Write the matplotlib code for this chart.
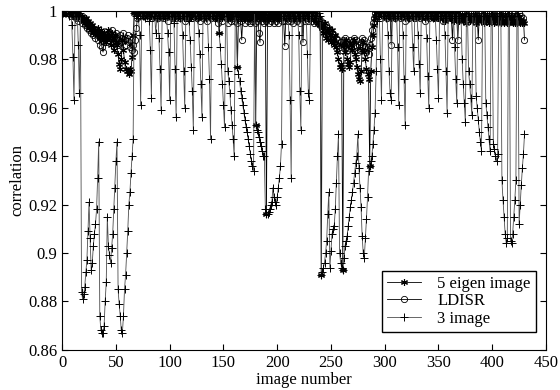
import numpy as np
import matplotlib
matplotlib.use('Agg')
import matplotlib.pyplot as plt
from matplotlib.ticker import FormatStrFormatter

plt.rcParams['font.family'] = ['Liberation Serif', 'DejaVu Serif']

# 3 image (plus markers), image 1..430
img3 = [
    0.999, 1.000, 0.999, 0.999, 1.000, 0.998, 0.999, 0.999, 0.994, 0.981,
    0.963, 0.999, 0.998, 0.999, 0.986, 0.966, 0.999, 0.884, 0.881, 0.883,
    0.886, 0.892, 0.897, 0.909, 0.921, 0.906, 0.893, 0.896, 0.903, 0.908,
    0.912, 0.918, 0.931, 0.946, 0.874, 0.868, 0.867, 0.867, 0.870, 0.880,
    0.888, 0.915, 0.903, 0.899, 0.896, 0.902, 0.908, 0.918, 0.927, 0.938,
    0.946, 0.885, 0.879, 0.874, 0.868, 0.867, 0.874, 0.885, 0.891, 0.900,
    0.909, 0.920, 0.925, 0.933, 0.940, 0.947, 0.999, 1.000, 0.998, 0.999,
    0.997, 0.990, 0.961, 0.999, 0.998, 0.999, 0.997, 0.999, 0.998, 0.999,
    0.996, 0.984, 0.964, 0.999, 0.998, 0.999, 0.991, 0.997, 0.999, 0.989,
    0.976, 0.959, 0.999, 0.998, 0.999, 0.997, 0.999, 0.991, 0.983, 0.963,
    0.999, 0.998, 0.999, 0.995, 0.976, 0.956, 0.999, 0.998, 0.999, 0.997,
    0.999, 0.990, 0.975, 0.960, 0.999, 0.998, 0.999, 0.996, 0.988, 0.977,
    0.967, 0.951, 0.999, 0.998, 0.999, 0.997, 0.991, 0.982, 0.970, 0.956,
    0.999, 0.998, 0.999, 0.997, 0.999, 0.985, 0.972, 0.947, 0.999, 0.998,
    0.999, 0.997, 0.999, 0.998, 0.999, 0.991, 0.985, 0.978, 0.970, 0.961,
    0.952, 0.999, 0.998, 0.975, 0.971, 0.966, 0.959, 0.953, 0.947, 0.940,
    0.999, 0.998, 0.977, 0.974, 0.971, 0.967, 0.964, 0.961, 0.958, 0.955,
    0.952, 0.950, 0.947, 0.944, 0.941, 0.938, 0.936, 0.934, 0.999, 0.953,
    0.951, 0.950, 0.948, 0.946, 0.944, 0.942, 0.940, 0.940, 0.918, 0.916,
    0.916, 0.917, 0.918, 0.920, 0.921, 0.927, 0.923, 0.921, 0.920, 0.923,
    0.927, 0.931, 0.936, 0.945, 0.999, 0.998, 0.999, 0.997, 0.999, 0.998,
    0.990, 0.963, 0.931, 0.999, 0.998, 0.999, 0.997, 0.999, 0.998, 0.990,
    0.967, 0.951, 0.999, 0.998, 0.999, 0.997, 0.999, 0.982, 0.966, 0.963,
    0.999, 0.998, 0.999, 0.997, 0.999, 0.998, 0.999, 0.996, 0.999, 0.998,
    0.891, 0.892, 0.894, 0.896, 0.900, 0.905, 0.916, 0.925, 0.894, 0.901,
    0.908, 0.910, 0.911, 0.918, 0.929, 0.940, 0.949, 0.900, 0.896, 0.894,
    0.893, 0.898, 0.903, 0.905, 0.907, 0.911, 0.915, 0.919, 0.922, 0.925,
    0.929, 0.933, 0.937, 0.940, 0.949, 0.935, 0.927, 0.919, 0.907, 0.900,
    0.898, 0.906, 0.914, 0.923, 0.934, 0.936, 0.938, 0.940, 0.945, 0.951,
    0.958, 0.975, 0.996, 0.999, 0.998, 0.980, 0.963, 0.999, 0.998, 0.999,
    0.997, 0.999, 0.990, 0.975, 0.966, 0.963, 0.999, 0.998, 0.999, 0.997,
    0.999, 0.985, 0.961, 0.999, 0.998, 0.999, 0.990, 0.972, 0.953, 0.999,
    0.998, 0.999, 0.997, 0.999, 0.998, 0.985, 0.975, 0.999, 0.998, 0.999,
    0.990, 0.978, 0.966, 0.999, 0.998, 0.999, 0.997, 0.999, 0.989, 0.973,
    0.960, 0.999, 0.998, 0.999, 0.997, 0.999, 0.998, 0.988, 0.976, 0.964,
    0.999, 0.998, 0.999, 0.997, 0.999, 0.990, 0.975, 0.958, 0.999, 0.998,
    0.999, 0.997, 0.999, 0.998, 0.985, 0.972, 0.962, 0.999, 0.998, 0.999,
    0.997, 0.980, 0.970, 0.962, 0.954, 0.999, 0.998, 0.975, 0.970, 0.964,
    0.957, 0.999, 0.998, 0.999, 0.965, 0.960, 0.955, 0.950, 0.946, 0.942,
    0.999, 0.998, 0.999, 0.962, 0.957, 0.952, 0.947, 0.942, 0.999, 0.998,
    0.945, 0.943, 0.940, 0.938, 0.941, 0.999, 0.998, 0.999, 0.930, 0.922,
    0.915, 0.908, 0.904, 0.906, 0.999, 0.998, 0.905, 0.904, 0.908, 0.915,
    0.922, 0.930, 0.999, 0.998, 0.912, 0.920, 0.928, 0.935, 0.941, 0.949,
]

# 5 eigen image (asterisk markers)
eig5 = [
    1.000, 0.999, 1.000, 1.000, 0.999, 1.000, 0.999, 1.000, 0.999, 0.999,
    0.998, 0.999, 0.999, 0.998, 0.999, 0.998, 0.997, 0.998, 0.996, 0.997,
    0.995, 0.997, 0.994, 0.996, 0.993, 0.995, 0.992, 0.994, 0.991, 0.993,
    0.992, 0.990, 0.993, 0.991, 0.989, 0.992, 0.990, 0.988, 0.991, 0.989,
    0.987, 0.990, 0.992, 0.989, 0.986, 0.991, 0.988, 0.984, 0.990, 0.987,
    0.986, 0.982, 0.978, 0.976, 0.980, 0.988, 0.984, 0.979, 0.976, 0.975,
    0.975, 0.974, 0.976, 0.975, 0.981, 0.990, 0.999, 1.000, 0.999, 1.000,
    0.999, 0.999, 1.000, 0.999, 0.998, 0.999, 1.000, 0.999, 0.998, 0.999,
    1.000, 0.999, 0.998, 0.999, 1.000, 0.999, 0.997, 0.999, 1.000, 0.998,
    0.999, 0.998, 1.000, 0.999, 0.999, 0.997, 0.999, 1.000, 0.999, 0.998,
    0.999, 1.000, 0.998, 0.999, 0.997, 0.999, 1.000, 0.999, 0.998, 0.999,
    1.000, 0.999, 0.997, 0.999, 0.998, 1.000, 0.999, 0.998, 0.999, 0.997,
    0.999, 1.000, 0.998, 0.999, 0.999, 0.997, 0.999, 1.000, 0.998, 0.999,
    0.999, 0.998, 1.000, 0.999, 0.997, 0.999, 0.998, 0.999, 1.000, 0.999,
    0.998, 0.999, 0.997, 0.999, 1.000, 0.991, 0.998, 0.999, 0.997, 0.999,
    0.998, 0.999, 1.000, 0.998, 0.999, 0.997, 0.999, 0.998, 0.999, 1.000,
    0.999, 0.998, 0.977, 0.998, 0.999, 0.997, 0.999, 0.998, 0.999, 0.997,
    0.999, 0.998, 1.000, 0.999, 0.997, 0.999, 0.998, 0.999, 0.998, 0.953,
    0.998, 0.999, 0.997, 0.999, 0.998, 0.999, 0.997, 0.998, 0.999, 0.916,
    0.998, 0.999, 0.997, 0.999, 0.998, 0.999, 1.000, 0.998, 0.999, 0.997,
    0.999, 0.998, 1.000, 0.999, 0.998, 0.999, 0.997, 0.999, 0.998, 0.999,
    0.997, 0.999, 0.998, 1.000, 0.999, 0.998, 0.999, 0.997, 0.999, 0.998,
    0.999, 0.997, 0.999, 0.998, 1.000, 0.999, 0.998, 0.999, 0.997, 0.999,
    0.998, 0.999, 0.997, 0.998, 0.999, 0.996, 0.998, 0.995, 0.997, 0.994,
    0.891, 0.993, 0.991, 0.995, 0.989, 0.992, 0.988, 0.993, 0.990, 0.987,
    0.992, 0.988, 0.986, 0.990, 0.985, 0.983, 0.980, 0.977, 0.978, 0.976,
    0.893, 0.986, 0.983, 0.988, 0.980, 0.978, 0.977, 0.979, 0.986, 0.984,
    0.988, 0.982, 0.980, 0.977, 0.974, 0.972, 0.971, 0.975, 0.984, 0.987,
    0.983, 0.980, 0.976, 0.974, 0.972, 0.936, 0.975, 0.985, 0.990, 0.994,
    0.997, 0.999, 1.000, 0.999, 0.998, 0.999, 1.000, 0.999, 0.998, 0.999,
    0.999, 1.000, 0.998, 0.999, 0.999, 0.997, 0.999, 1.000, 0.999, 0.998,
    0.999, 0.999, 0.997, 0.999, 1.000, 0.998, 0.999, 0.999, 0.997, 0.999,
    0.998, 1.000, 0.999, 0.998, 0.999, 0.997, 0.999, 0.998, 0.999, 1.000,
    0.999, 0.998, 0.999, 0.997, 0.999, 0.998, 1.000, 0.999, 0.998, 0.999,
    0.997, 0.999, 0.998, 0.999, 0.999, 0.997, 0.998, 0.999, 0.998, 0.997,
    0.999, 0.998, 0.997, 0.999, 0.998, 0.996, 0.998, 0.999, 0.997, 0.998,
    0.997, 0.999, 0.998, 0.996, 0.998, 0.997, 0.999, 0.998, 0.996, 0.998,
    0.997, 0.998, 0.996, 0.998, 0.997, 0.995, 0.998, 0.997, 0.996, 0.998,
    0.997, 0.996, 0.998, 0.997, 0.995, 0.997, 0.996, 0.998, 0.997, 0.996,
    0.997, 0.995, 0.997, 0.996, 0.998, 0.997, 0.995, 0.997, 0.996, 0.997,
    0.996, 0.995, 0.997, 0.996, 0.995, 0.997, 0.996, 0.995, 0.997, 0.996,
    0.995, 0.996, 0.997, 0.995, 0.996, 0.995, 0.997, 0.996, 0.995, 0.996,
    0.995, 0.996, 0.995, 0.997, 0.996, 0.995, 0.996, 0.995, 0.996, 0.995,
]

# LDISR (open circles)
ldisr = [
    0.999, 1.000, 0.999, 0.999, 1.000, 0.999, 0.999, 0.998, 0.999, 0.999,
    0.998, 0.999, 0.997, 0.998, 0.996, 0.997, 0.998, 0.995, 0.997, 0.996,
    0.994, 0.996, 0.993, 0.995, 0.992, 0.994, 0.991, 0.993, 0.990, 0.992,
    0.989, 0.991, 0.988, 0.990, 0.986, 0.989, 0.985, 0.983, 0.987, 0.989,
    0.990, 0.987, 0.988, 0.991, 0.989, 0.992, 0.987, 0.990, 0.988, 0.991,
    0.989, 0.986, 0.988, 0.990, 0.987, 0.989, 0.991, 0.988, 0.986, 0.989,
    0.990, 0.987, 0.985, 0.988, 0.984, 0.986, 0.983, 0.988, 0.993, 0.997,
    0.999, 0.998, 0.999, 1.000, 0.999, 0.998, 0.999, 0.999, 0.997, 0.999,
    0.999, 0.998, 0.999, 0.997, 0.999, 0.998, 0.999, 0.999, 0.997, 0.999,
    0.998, 0.999, 0.999, 0.997, 0.999, 0.998, 0.999, 0.996, 0.999, 0.998,
    0.999, 0.997, 0.999, 0.998, 0.999, 0.997, 0.999, 0.998, 0.999, 0.997,
    0.999, 0.998, 0.999, 0.996, 0.998, 0.999, 0.997, 0.999, 0.998, 0.999,
    0.997, 0.999, 0.998, 0.999, 0.997, 0.998, 0.999, 0.996, 0.998, 0.999,
    0.997, 0.999, 0.998, 0.999, 0.996, 0.998, 0.999, 0.997, 0.999, 0.998,
    0.999, 0.997, 0.999, 0.998, 0.995, 0.997, 0.999, 0.998, 0.996, 0.999,
    0.998, 0.997, 0.999, 0.995, 0.997, 0.998, 0.996, 0.999, 0.997, 0.998,
    0.996, 0.998, 0.995, 0.997, 0.998, 0.996, 0.988, 0.997, 0.998, 0.995,
    0.997, 0.998, 0.996, 0.997, 0.995, 0.998, 0.996, 0.997, 0.995, 0.998,
    0.996, 0.997, 0.991, 0.987, 0.997, 0.996, 0.998, 0.995, 0.997, 0.996,
    0.998, 0.995, 0.997, 0.996, 0.998, 0.997, 0.995, 0.998, 0.996, 0.997,
    0.995, 0.998, 0.997, 0.996, 0.998, 0.996, 0.9855, 0.997, 0.998, 0.996,
    0.997, 0.998, 0.996, 0.997, 0.995, 0.998, 0.997, 0.996, 0.998, 0.997,
    0.995, 0.997, 0.998, 0.987, 0.998, 0.996, 0.997, 0.998, 0.996, 0.997,
    0.998, 0.996, 0.997, 0.995, 0.998, 0.996, 0.997, 0.995, 0.996, 0.994,
    0.996, 0.993, 0.995, 0.992, 0.994, 0.991, 0.993, 0.990, 0.992, 0.989,
    0.991, 0.988, 0.990, 0.987, 0.989, 0.986, 0.988, 0.985, 0.987, 0.984,
    0.988, 0.986, 0.989, 0.985, 0.987, 0.984, 0.986, 0.988, 0.985, 0.987,
    0.989, 0.986, 0.988, 0.985, 0.983, 0.986, 0.984, 0.987, 0.989, 0.986,
    0.988, 0.985, 0.983, 0.985, 0.982, 0.986, 0.989, 0.992, 0.995, 0.997,
    0.999, 0.998, 0.999, 0.999, 0.998, 0.999, 0.997, 0.999, 0.998, 0.999,
    0.999, 0.997, 0.999, 0.998, 0.999, 0.986, 0.999, 0.998, 0.999, 0.997,
    0.999, 0.998, 0.999, 0.999, 0.997, 0.999, 0.998, 0.999, 0.996, 0.999,
    0.998, 0.999, 0.997, 0.999, 0.999, 0.998, 0.999, 0.997, 0.999, 0.998,
    0.999, 0.999, 0.997, 0.999, 0.998, 0.999, 0.996, 0.999, 0.998, 0.999,
    0.997, 0.999, 0.998, 0.999, 0.999, 0.997, 0.999, 0.998, 0.999, 0.997,
    0.999, 0.998, 0.999, 0.996, 0.999, 0.998, 0.999, 0.997, 0.999, 0.998,
    0.999, 0.997, 0.988, 0.999, 0.998, 0.999, 0.997, 0.988, 0.999, 0.998,
    0.999, 0.997, 0.999, 0.998, 0.999, 0.996, 0.999, 0.998, 0.999, 0.997,
    0.999, 0.998, 0.999, 0.997, 0.999, 0.998, 0.988, 0.999, 0.997, 0.999,
    0.998, 0.999, 0.997, 0.999, 0.998, 0.999, 0.996, 0.999, 0.998, 0.999,
    0.997, 0.999, 0.998, 0.999, 0.997, 0.999, 0.998, 0.996, 0.999, 0.998,
    0.999, 0.997, 0.999, 0.998, 0.999, 0.996, 0.998, 0.999, 0.997, 0.998,
    0.999, 0.997, 0.998, 0.996, 0.999, 0.997, 0.998, 0.996, 0.997, 0.988,
]

x = np.arange(1, len(img3) + 1)

fig = plt.figure(figsize=(5.6, 3.9), dpi=100)
ax = fig.add_axes([0.111, 0.103, 0.864, 0.869])

asterisk = (6, 2, 0)
ax.plot(x, eig5, color='black', lw=0.6, marker=asterisk, ms=5, mew=0.8,
        label='5 eigen image')
ax.plot(x, ldisr, color='black', lw=0.6, marker='o', ms=4.5, mew=0.6,
        mfc='none', label='LDISR')
ax.plot(x, img3, color='0.3', lw=0.6, marker='+', ms=6, mew=0.7,
        mec='black', label='3 image')

ax.set_xlim(0, 450)
ax.set_ylim(0.86, 1.0)
ax.set_xticks(np.arange(0, 451, 50))
ax.set_yticks(np.arange(0.86, 1.001, 0.02))
ax.yaxis.set_major_formatter(FormatStrFormatter('%g'))
ax.tick_params(direction='in', top=True, right=True, labelsize=12, length=4)
ax.set_xlabel('image number', fontsize=12, labelpad=1)
ax.set_ylabel('correlation', fontsize=12, labelpad=2)

leg = ax.legend(loc='lower right', bbox_to_anchor=(0.979, 0.053),
                borderaxespad=0, fontsize=12, fancybox=False,
                edgecolor='black', framealpha=1, handlelength=2.0,
                handletextpad=1.0, borderpad=0.3, labelspacing=0.1)
leg.get_frame().set_linewidth(1.0)

fig.savefig('out.png', dpi=100)
